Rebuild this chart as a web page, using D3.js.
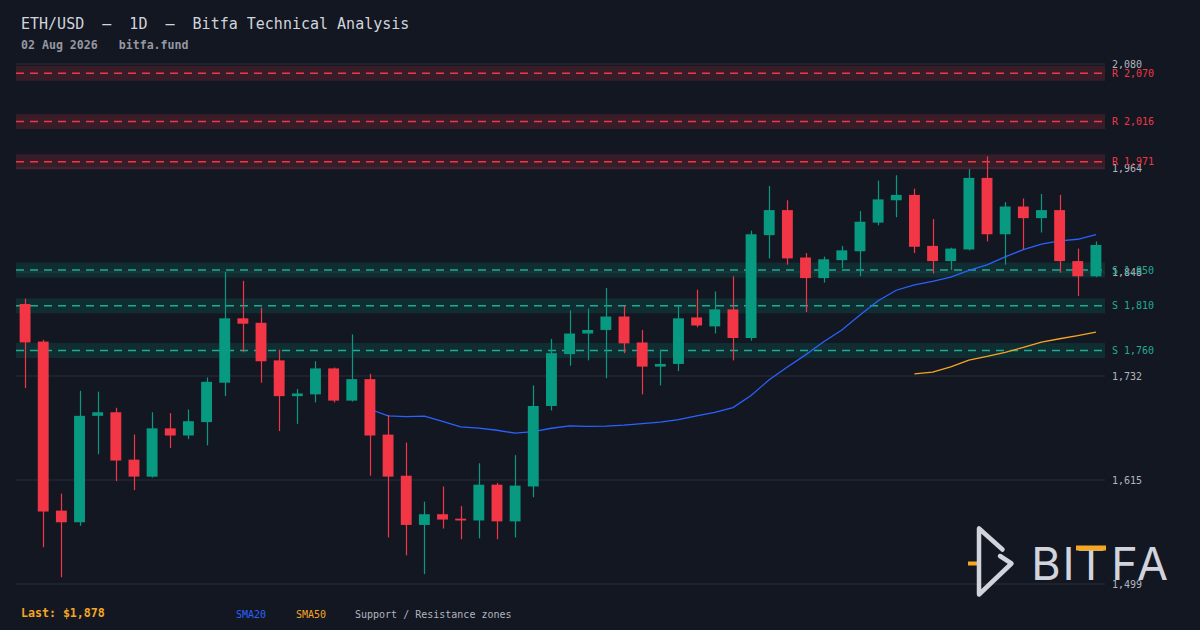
<!DOCTYPE html>
<html>
<head>
<meta charset="utf-8">
<script src="https://cdn.jsdelivr.net/npm/d3@7"></script>
<style>
  html, body { margin: 0; padding: 0; background: #131722; }
  svg { display: block; }
</style>
</head>
<body>
<div id="chart"></div>
<script>
// ---- data ----
const opens  = [1812,1770,1581,1568,1687,1691,1638,1619,1673,1665,
                1680,1724,1796,1791,1749,1709,1711,1740,1704,1728,
                1666,1620,1565,1577,1572,1570,1610,1569,1608,1698,
                1756,1779,1783,1798,1769,1742,1745,1797,1787,1806,
                1774,1889,1917,1864,1841,1861,1871,1903,1928,1934,
                1877,1860,1873,1953,1890,1921,1908,1917,1860,1843];
const highs  = [1818,1772,1600,1715,1714,1696,1666,1691,1690,1694,
                1730,1848,1838,1808,1761,1717,1748,1741,1778,1734,
                1688,1657,1591,1608,1586,1634,1612,1643,1721,1773,
                1805,1807,1830,1810,1783,1761,1810,1828,1826,1843,
                1894,1944,1928,1869,1865,1877,1916,1950,1956,1941,
                1907,1875,1963,1977,1926,1930,1935,1934,1874,1882];
const lows   = [1718,1540,1506.5,1564,1644,1614,1604,1618,1651,1661,
                1654,1709,1758,1724,1670,1678,1702,1702,1703,1620,
                1551,1531,1510,1561,1549,1550,1549,1551,1596,1693,
                1743,1749,1729,1757,1711,1721,1737,1786,1779,1749,
                1771,1863,1856,1803,1836,1852,1843,1900,1909,1869,
                1846,1850,1872,1882,1856,1873,1892,1847,1821,1842];
const closes = [1769,1580,1568,1687,1691,1637,1619,1673,1665,1681,
                1725,1796,1790,1748,1709,1712,1740,1704,1728,1665,
                1619,1565,1577,1571,1570,1610,1569,1609,1698,1757,
                1779,1783,1798,1768,1742,1745,1796,1788,1806,1774,
                1890,1917,1863,1841,1862,1872,1904,1929,1934,1876,
                1860,1874,1953,1890,1921,1908,1917,1860,1843,1878];
const resistance = [2070, 2016, 1971];
const support    = [1850, 1810, 1760];
const titleText = "ETH/USD  \u2014  1D  \u2014  Bitfa Technical Analysis";
const subtitleText = "02 Aug 2026   bitfa.fund";
const legendItems = ["SMA20", "SMA50", "Support / Resistance zones"];

// ---- setup ----
const W = 1200, H = 630;
const BG = "#131722", UP = "#089981", DOWN = "#f23645";
const RCOL = "#f23645", SCOL = "#22ab94", SMA20C = "#2962ff", SMA50C = "#f5a623";
const MONO = "'DejaVu Sans Mono', 'Liberation Mono', monospace";

const n = closes.length;
const candles = d3.range(n).map(i => ({i, o: opens[i], h: highs[i], l: lows[i], c: closes[i]}));

const svg = d3.select("#chart").append("svg").attr("width", W).attr("height", H);
svg.append("rect").attr("width", W).attr("height", H).attr("fill", BG);

const x0 = 16, x1 = 1105;
const x = d3.scaleBand().domain(d3.range(n)).range([x0, x1]).paddingInner(0.4).paddingOuter(0.2);
const cx = i => x(i) + x.bandwidth() / 2;

const yMin = d3.min(lows) * 0.995;
const yMax = Math.max(d3.max(highs), d3.max(resistance)) * 1.005;
const y = d3.scaleLinear().domain([yMin, yMax]).range([584, 64]);
const tickVals = d3.range(6).map(k => yMin + k * (yMax - yMin) / 5);

// gridlines
svg.append("g").selectAll("line").data(tickVals).join("line")
  .attr("x1", x0).attr("x2", x1)
  .attr("y1", d => y(d)).attr("y2", d => y(d))
  .attr("stroke", "#2a2e39").attr("stroke-width", 1);

// zones
const zones = resistance.map(v => ({v, t: "R", col: RCOL}))
  .concat(support.map(v => ({v, t: "S", col: SCOL})));
const zoneHalf = 8.4;
const zg = svg.append("g");
zg.selectAll("rect").data(zones).join("rect")
  .attr("x", x0).attr("width", x1 - x0)
  .attr("y", d => y(d.v + zoneHalf)).attr("height", d => y(d.v - zoneHalf) - y(d.v + zoneHalf))
  .attr("fill", d => d.t === "R" ? "rgba(242,54,69,0.17)" : "rgba(8,153,129,0.17)");
zg.selectAll("line").data(zones).join("line")
  .attr("x1", x0).attr("x2", x1 - 2)
  .attr("y1", d => y(d.v)).attr("y2", d => y(d.v))
  .attr("stroke", d => d.col).attr("stroke-width", 1.5).attr("stroke-dasharray", "8,6");

// SMA lines
function sma(period) {
  return candles.map((d, i) => i < period - 1 ? null :
    {i, v: d3.mean(closes.slice(i - period + 1, i + 1))}).filter(d => d);
}
const line = d3.line().x(d => cx(d.i)).y(d => y(d.v));
svg.append("path").datum(sma(20)).attr("d", line)
  .attr("fill", "none").attr("stroke", SMA20C).attr("stroke-width", 1.3);
svg.append("path").datum(sma(50)).attr("d", line)
  .attr("fill", "none").attr("stroke", SMA50C).attr("stroke-width", 1.3);

// candles
const cg = svg.append("g").selectAll("g").data(candles).join("g");
cg.append("line")
  .attr("x1", d => Math.round(cx(d.i)) + 0.5).attr("x2", d => Math.round(cx(d.i)) + 0.5)
  .attr("y1", d => y(d.h)).attr("y2", d => y(d.l))
  .attr("stroke", d => d.c >= d.o ? UP : DOWN).attr("stroke-width", 1.2);
cg.append("rect")
  .attr("x", d => x(d.i)).attr("width", x.bandwidth())
  .attr("y", d => y(Math.max(d.o, d.c)))
  .attr("height", d => Math.max(1.5, Math.abs(y(d.o) - y(d.c))))
  .attr("fill", d => d.c >= d.o ? UP : DOWN);

// right axis
const axis = d3.axisRight(y).tickValues(tickVals).tickSize(0).tickPadding(7)
  .tickFormat(d => d3.format(",")(Math.round(d)));
const ag = svg.append("g").attr("transform", `translate(${x1},0)`).call(axis);
ag.select(".domain").remove();
ag.selectAll("text").attr("fill", "#b2b5be").attr("font-family", MONO).attr("font-size", 10);

// zone labels
svg.append("g").selectAll("text").data(zones).join("text")
  .attr("x", x1 + 7).attr("y", d => y(d.v)).attr("dy", "0.35em")
  .attr("fill", d => d.col).attr("font-family", MONO).attr("font-size", 10)
  .text(d => `${d.t} ${d3.format(",")(d.v)}`);

// title
svg.append("text").attr("x", 21).attr("y", 29)
  .attr("fill", "#d1d4dc").attr("font-family", MONO).attr("font-size", 15)
  .style("white-space", "pre").text(titleText);
svg.append("text").attr("x", 21).attr("y", 49)
  .attr("fill", "#9598a1").attr("font-family", MONO).attr("font-size", 11.6).attr("font-weight", "bold")
  .style("white-space", "pre").text(subtitleText);

// legend
svg.append("text").attr("x", 21).attr("y", 617)
  .attr("fill", SMA50C).attr("font-family", MONO).attr("font-size", 11.6).attr("font-weight", "bold")
  .text("Last: $" + d3.format(",")(closes[n - 1]));
const legCols = [SMA20C, SMA50C, "#b2b5be"];
const legX = [236, 296, 355];
svg.append("g").selectAll("text").data(legendItems).join("text")
  .attr("x", (d, k) => legX[k]).attr("y", 618)
  .attr("fill", (d, k) => legCols[k]).attr("font-family", MONO).attr("font-size", 10)
  .text(d => d);

// logo
const lg = svg.append("g");
lg.append("line").attr("x1", 968).attr("x2", 977).attr("y1", 563.5).attr("y2", 563.5)
  .attr("stroke", SMA50C).attr("stroke-width", 4);
lg.append("path").attr("d", "M1002.5,549.5 L979,528.5 L979,594.5 L1011.5,563.5 L1000,556")
  .attr("fill", "none").attr("stroke", "#d1d4dc").attr("stroke-width", 4.5)
  .attr("stroke-linecap", "round").attr("stroke-linejoin", "round");
const letters = ["B", "I", "T", "F", "A"];
const letterX = [1046, 1068.5, 1091, 1124.5, 1152.5];
lg.selectAll("text.logo").data(letters).join("text").attr("class", "logo")
  .attr("x", (d, k) => letterX[k]).attr("y", 580).attr("text-anchor", "middle")
  .attr("fill", "#d1d4dc").attr("font-family", "Inter, 'Open Sans', sans-serif")
  .attr("font-size", 45).attr("font-weight", 400).text(d => d);
lg.append("rect").attr("x", 1076).attr("y", 545.5).attr("width", 30).attr("height", 5)
  .attr("fill", SMA50C);
</script>
</body>
</html>
